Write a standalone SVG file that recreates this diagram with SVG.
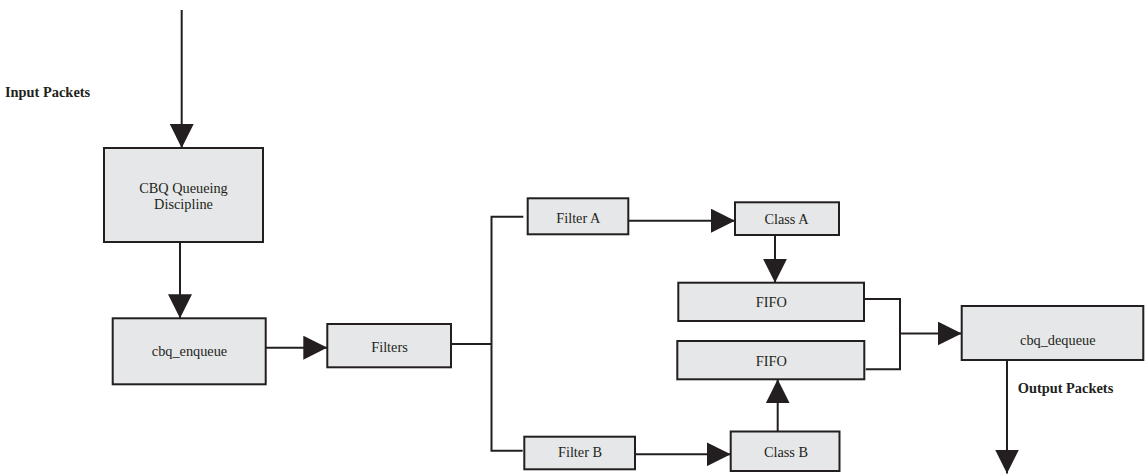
<svg xmlns="http://www.w3.org/2000/svg" width="1148" height="474" viewBox="0 0 1148 474">
<style>
.box{fill:#e6e7e8;stroke:#231f20;stroke-width:2}
.t{font-family:"Liberation Serif","Times New Roman",serif;font-size:14.3px;fill:#231f20;text-anchor:middle}
.b{font-family:"Liberation Serif","Times New Roman",serif;font-size:14.4px;font-weight:bold;fill:#231f20}
.c{fill:none;stroke:#231f20;stroke-width:2}
.a{marker-end:url(#ah)}
</style>
<defs>
<marker id="ah" markerUnits="userSpaceOnUse" markerWidth="24" markerHeight="24" refX="24" refY="12" orient="auto" viewBox="0 0 24 24">
<path d="M0,0 L24,12 L0,24 Z" fill="#231f20"/>
</marker>
</defs>
<rect width="1148" height="474" fill="#fff"/>
<g id="connectors">
<path class="c a" d="M181.7,10 V148"/>
<path class="c a" d="M180,242 V318.3"/>
<path class="c a" d="M266,347.7 H327.3"/>
<path class="c" d="M451,344 H491.5"/>
<path class="c" d="M523.3,216.7 H491.5 V450.7 H522.7"/>
<path class="c a" d="M628.3,220.7 H735"/>
<path class="c a" d="M775,235 V282.7"/>
<path class="c a" d="M635,454.3 H730.7"/>
<path class="c a" d="M777.7,431.5 V379.3"/>
<path class="c" d="M864,299 H900 V369.3 H865.7"/>
<path class="c a" d="M900,333.5 H961.7"/>
<path class="c a" d="M1007,360 V473.5"/>
</g>
<g id="input-label"><text class="b" x="5" y="96.5">Input Packets</text></g>
<g id="output-label"><text class="b" x="1017.7" y="392.7">Output Packets</text></g>
<g id="cbq">
<rect class="box" x="104" y="148" width="159" height="94"/>
<text class="t" x="183.5" y="193">CBQ Queueing</text>
<text class="t" x="183.5" y="209">Discipline</text>
</g>
<g id="cbq_enqueue">
<rect class="box" x="112.7" y="318.3" width="153" height="66"/>
<text class="t" x="189.5" y="356">cbq_enqueue</text>
</g>
<g id="filters">
<rect class="box" x="327.3" y="324" width="123.7" height="43.3"/>
<text class="t" x="389.5" y="351.5">Filters</text>
</g>
<g id="filter-a">
<rect class="box" x="527.7" y="198.3" width="100.6" height="36"/>
<text class="t" x="578.3" y="222.7">Filter A</text>
</g>
<g id="filter-b">
<rect class="box" x="524.3" y="436.7" width="110.7" height="32.6"/>
<text class="t" x="580" y="457.3">Filter B</text>
</g>
<g id="class-a">
<rect class="box" x="735" y="202.3" width="104" height="32.7"/>
<text class="t" x="786.5" y="224.3">Class A</text>
</g>
<g id="class-b">
<rect class="box" x="730.7" y="431.5" width="108.8" height="39.5"/>
<text class="t" x="786" y="457.3">Class B</text>
</g>
<g id="fifo-1">
<rect class="box" x="678.3" y="282.7" width="185.7" height="38.3"/>
<text class="t" x="771.3" y="307.3">FIFO</text>
</g>
<g id="fifo-2">
<rect class="box" x="677.3" y="341" width="187" height="38.3"/>
<text class="t" x="771.3" y="365.7">FIFO</text>
</g>
<g id="cbq_dequeue">
<rect class="box" x="961.7" y="306" width="181.6" height="54"/>
<text class="t" x="1057.8" y="345">cbq_dequeue</text>
</g>
</svg>
